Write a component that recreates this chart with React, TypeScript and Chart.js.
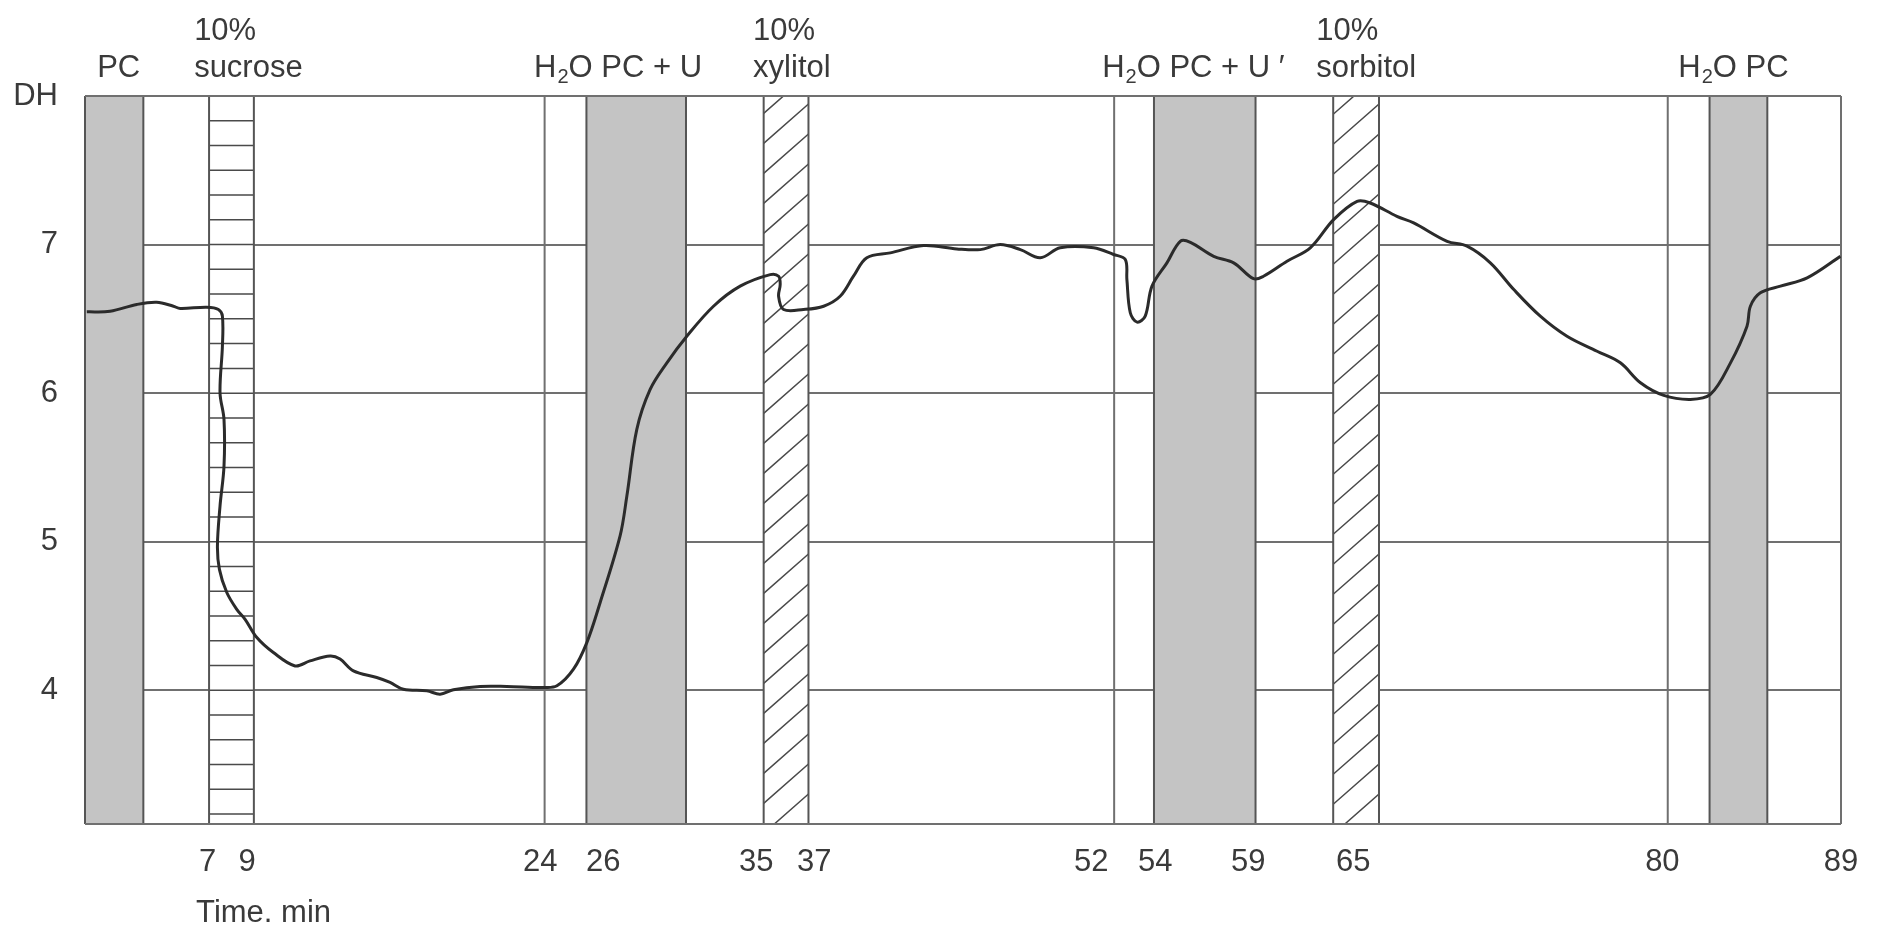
import React, { useEffect, useRef } from 'react';
import { Chart, registerables } from 'chart.js';

Chart.register(...registerables);

// ---- data ----
const timeMin = [
  0.91, 2.08, 3.42, 4.42, 5.26, 5.6, 6.94, 7.52, 7.72, 7.72, 7.6, 7.8, 7.8, 7.6, 7.47, 7.57, 7.94, 8.44, 8.86,
  9.45, 10.28, 11.37, 12.12, 13.13, 13.63, 14.3, 15.47, 16.14, 16.81, 17.99, 18.65, 19.32, 20.66, 22.0, 23.84,
  24.52, 25.35, 26.02, 26.69, 27.69, 28.03, 28.53, 29.2, 30.04, 31.04, 32.38, 33.72, 35.23, 35.65, 35.73, 35.65,
  35.9, 36.9, 37.91, 38.74, 39.41, 40.08, 41.26, 42.93, 44.6, 45.78, 46.78, 47.79, 48.79, 49.79, 51.47, 52.47,
  53.06, 53.14, 53.31, 53.65, 54.06, 54.4, 55.15, 55.82, 56.33, 57.5, 58.5, 59.5, 60.0, 61.18, 62.35, 63.52,
  64.7, 65.36, 66.7, 67.54, 69.22, 70.22, 71.39, 72.57, 73.9, 75.24, 76.75, 77.92, 78.93, 80.1, 81.44, 82.44,
  83.45, 84.28, 84.45, 84.95, 85.96, 87.3, 88.97,
];
const dhValues = [
  6.547, 6.551, 6.597, 6.612, 6.585, 6.57, 6.578, 6.563, 6.518, 6.316, 6.003, 5.823, 5.509, 5.24, 4.971, 4.814,
  4.658, 4.545, 4.478, 4.355, 4.254, 4.164, 4.198, 4.231, 4.21, 4.131, 4.086, 4.053, 4.007, 3.996, 3.974, 4.003,
  4.026, 4.026, 4.019, 4.03, 4.142, 4.321, 4.591, 5.039, 5.307, 5.756, 6.025, 6.204, 6.383, 6.585, 6.72, 6.798,
  6.787, 6.731, 6.652, 6.563, 6.563, 6.585, 6.652, 6.787, 6.911, 6.944, 6.993, 6.971, 6.966, 7.0, 6.966, 6.911,
  6.978, 6.978, 6.933, 6.9, 6.765, 6.541, 6.478, 6.518, 6.72, 6.877, 7.022, 7.015, 6.921, 6.877, 6.77, 6.787,
  6.888, 6.978, 7.168, 7.291, 7.28, 7.19, 7.146, 7.022, 6.989, 6.877, 6.697, 6.518, 6.383, 6.282, 6.204, 6.07,
  5.985, 5.958, 5.991, 6.204, 6.451, 6.585, 6.675, 6.72, 6.776, 6.921,
];

const xMin = 0.82;
const xMax = 89;
const yMin = 3.1;
const yMax = 8;
// where each printed time label sits on the drawn axis, and its text
const xTickPositions = [6.98, 8.96, 23.68, 26.84, 34.53, 37.44, 51.35, 54.56, 59.24, 64.51, 80.03, 89];
const xTickLabels = ['7', '9', '24', '26', '35', '37', '52', '54', '59', '65', '80', '89'];
const yTickValues = [4, 5, 6, 7, 8];
const yTickLabels = ['4', '5', '6', '7', 'DH'];

// grey (PC) periods
const greyBandStart = [0.82, 26, 54.5, 82.4];
const greyBandEnd = [3.75, 31, 59.6, 85.3];
// hatched (10% sugar) periods
const sugarBandStart = [7.05, 34.9, 63.5];
const sugarBandEnd = [9.3, 37.15, 65.8];
const sugarBandPattern = ['horizontal', 'diagonal', 'diagonal'];
// plain vertical lines
const markerLines = [23.9, 52.5, 80.3, 89];

// labels above the plot
const upperLabelText = ['', '10%', '', '10%', '', '10%', ''];
const lowerLabelText = ['PC', 'sucrose', 'H2O PC + U', 'xylitol', 'H2O PC + U \u2032', 'sorbitol', 'H2O PC'];
const labelX = [1.43, 6.3, 23.37, 34.37, 51.9, 62.65, 80.83];
const axisTitle = 'Time. min';
const axisTitleX = 6.4;

const FONT = "'Liberation Sans', Arial, Helvetica, sans-serif";
const TEXT = '#3a3a3a';
const LINE = '#707070';
const EDGE = '#555555';

function drawRich(ctx: CanvasRenderingContext2D, text: string, x: number, y: number, size: number) {
  const parts = text.split(/(?<=H)2(?=O)/);
  let cx = x;
  ctx.textAlign = 'left';
  ctx.textBaseline = 'alphabetic';
  parts.forEach((p, i) => {
    ctx.font = `${size}px ${FONT}`;
    ctx.fillText(p, cx, y);
    cx += ctx.measureText(p).width;
    if (i < parts.length - 1) {
      const sub = Math.round(size * 0.65);
      ctx.font = `${sub}px ${FONT}`;
      ctx.fillText('2', cx + 1, y + size * 0.2);
      cx += ctx.measureText('2').width + 1;
    }
  });
}

const bandsPlugin = {
  id: 'bands',
  beforeDatasetsDraw(chart: any) {
    const { ctx, chartArea: a, scales } = chart;
    const xs = scales.x;
    const ys = scales.y;
    ctx.save();
    // grey bands
    greyBandStart.forEach((s, i) => {
      const l = xs.getPixelForValue(s);
      const r = xs.getPixelForValue(greyBandEnd[i]);
      ctx.fillStyle = '#c4c4c4';
      ctx.fillRect(l, a.top, r - l, a.bottom - a.top);
      ctx.strokeStyle = EDGE;
      ctx.lineWidth = 2;
      ctx.beginPath();
      ctx.moveTo(l, a.top); ctx.lineTo(l, a.bottom);
      ctx.moveTo(r, a.top); ctx.lineTo(r, a.bottom);
      ctx.stroke();
    });
    // hatched bands
    sugarBandStart.forEach((s, i) => {
      const l = xs.getPixelForValue(s);
      const r = xs.getPixelForValue(sugarBandEnd[i]);
      const w = r - l;
      ctx.save();
      ctx.fillStyle = '#ffffff';
      ctx.fillRect(l, a.top, w, a.bottom - a.top);
      ctx.beginPath();
      ctx.rect(l, a.top, w, a.bottom - a.top);
      ctx.clip();
      ctx.strokeStyle = '#4a4a4a';
      ctx.lineWidth = 1.5;
      ctx.beginPath();
      if (sugarBandPattern[i] === 'horizontal') {
        for (let v = yMax; v >= yMin; v -= 1 / 6) {
          const y = ys.getPixelForValue(v);
          ctx.moveTo(l, y); ctx.lineTo(r, y);
        }
      } else {
        const step = 30;
        const rise = w * 0.88;
        for (let y0 = a.bottom + rise; y0 >= a.top - step; y0 -= step) {
          ctx.moveTo(l, y0); ctx.lineTo(r, y0 - rise);
        }
      }
      ctx.stroke();
      ctx.restore();
      ctx.strokeStyle = EDGE;
      ctx.lineWidth = 2;
      ctx.beginPath();
      ctx.moveTo(l, a.top); ctx.lineTo(l, a.bottom);
      ctx.moveTo(r, a.top); ctx.lineTo(r, a.bottom);
      ctx.stroke();
    });
    // marker lines and frame
    ctx.strokeStyle = LINE;
    ctx.lineWidth = 2;
    ctx.beginPath();
    markerLines.forEach((m) => {
      const x = xs.getPixelForValue(m);
      ctx.moveTo(x, a.top); ctx.lineTo(x, a.bottom);
    });
    const yb = ys.getPixelForValue(yMin);
    ctx.moveTo(a.left, yb); ctx.lineTo(a.right, yb);
    const yt = ys.getPixelForValue(yMax);
    ctx.moveTo(a.left, yt); ctx.lineTo(a.right, yt);
    ctx.stroke();
    ctx.restore();
  },
  afterDraw(chart: any) {
    const { ctx, scales } = chart;
    const xs = scales.x;
    ctx.save();
    ctx.fillStyle = TEXT;
    const size = 31;
    labelX.forEach((v, i) => {
      const x = xs.getPixelForValue(v);
      if (upperLabelText[i]) drawRich(ctx, upperLabelText[i], x, 40, size);
      drawRich(ctx, lowerLabelText[i], x, 77, size);
    });
    drawRich(ctx, axisTitle, xs.getPixelForValue(axisTitleX), 922, size);
    ctx.restore();
  },
};

export default function App() {
  const ref = useRef<HTMLCanvasElement | null>(null);
  useEffect(() => {
    if (!ref.current) return;
    const chart = new Chart(ref.current, {
      type: 'line',
      data: {
        datasets: [
          {
            label: 'DH',
            data: timeMin.map((t, i) => ({ x: t, y: dhValues[i] })),
            borderColor: '#2b2b2b',
            borderWidth: 3,
            pointRadius: 0,
            tension: 0.35,
            fill: false,
          },
        ],
      },
      options: {
        animation: false,
        responsive: false,
        maintainAspectRatio: false,
        devicePixelRatio: 1,
        layout: { padding: { top: 96, right: 40, left: 0, bottom: 0 } },
        plugins: { legend: { display: false }, tooltip: { enabled: false }, title: { display: false } },
        scales: {
          x: {
            type: 'linear',
            min: xMin,
            max: xMax,
            grid: { display: false, drawTicks: false },
            border: { display: false },
            afterBuildTicks: (s: any) => {
              s.ticks = xTickPositions.map((v) => ({ value: v }));
            },
            afterFit: (s: any) => {
              s.height = 104;
            },
            ticks: {
              autoSkip: false,
              maxRotation: 0,
              padding: 20,
              color: TEXT,
              font: { family: FONT, size: 31 },
              callback: (_v: any, i: number) => xTickLabels[i],
            },
          },
          y: {
            type: 'linear',
            min: yMin,
            max: yMax,
            grid: { color: LINE, lineWidth: 2, drawTicks: false },
            border: { display: false },
            afterBuildTicks: (s: any) => {
              s.ticks = yTickValues.map((v) => ({ value: v }));
            },
            afterFit: (s: any) => {
              s.width = 85;
            },
            ticks: {
              padding: 27,
              color: TEXT,
              font: { family: FONT, size: 31 },
              callback: (v: any) => {
                const i = yTickValues.indexOf(Number(v));
                return i >= 0 ? yTickLabels[i] : '';
              },
            },
          },
        },
      },
      plugins: [bandsPlugin],
    });
    return () => chart.destroy();
  }, []);
  return (
    <div style={{ position: 'fixed', left: 0, top: 0, width: 1881, height: 928, background: '#ffffff' }}>
      <canvas ref={ref} width={1881} height={928} style={{ width: 1881, height: 928, display: 'block' }} />
    </div>
  );
}
